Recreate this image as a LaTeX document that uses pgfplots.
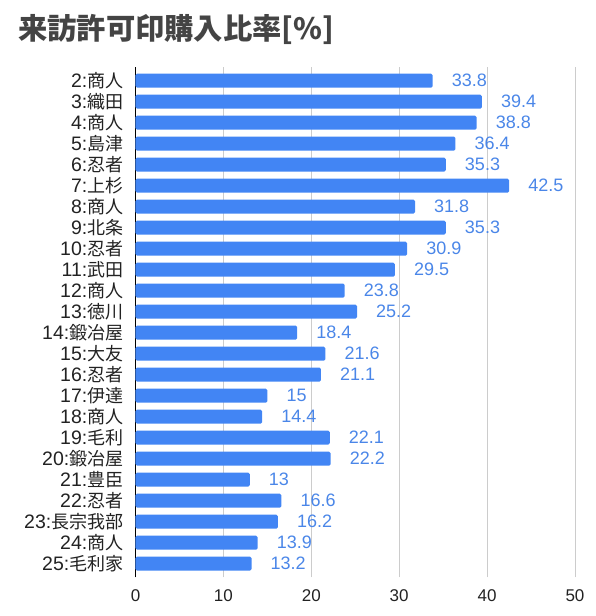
\documentclass[border=0pt]{standalone}
\usepackage{fontspec}
\setmainfont{Liberation Sans}
\newfontfamily\cjk{Noto Sans CJK JP}
\newcommand\J[1]{{\cjk\fontsize{18}{18}\selectfont #1}}
\usepackage{pgfplots}
\pgfplotsset{compat=1.18}
\definecolor{barblue}{HTML}{4285F4}
\definecolor{lblblue}{HTML}{4A86E8}
\definecolor{titlegray}{HTML}{444444}
\definecolor{gridgray}{HTML}{CCCCCC}
\definecolor{txt}{HTML}{222222}
\begin{document}
\begin{tikzpicture}
\path[use as bounding box] (-135.5pt,-38.7pt) rectangle (459.5pt,577.3pt);
\node[anchor=west, font=\cjk\bfseries\fontsize{29.3}{29.3}\selectfont, text=titlegray, inner sep=0pt] at (-117.5pt,548pt) {来訪許可印購入比率[\%]};
\begin{axis}[
  at={(0pt,0pt)}, anchor=south west,
  scale only axis, width=439.5pt, height=510.6pt,
  xmin=0, xmax=50, ymin=-0.648, ymax=23.667,
  xbar, bar width=14pt,
  axis x line*=bottom, axis y line*=left,
  x axis line style={draw=none},
  y axis line style={black, line width=0.9pt},
  major tick length=0pt,
  xtick={0,10,20,30,40,50},
  ytick={0,...,23},
  yticklabels={{25:\J{毛利家}},{24:\J{商人}},{23:\J{長宗我部}},{22:\J{忍者}},{21:\J{豊臣}},{20:\J{鍛冶屋}},{19:\J{毛利}},{18:\J{商人}},{17:\J{伊達}},{16:\J{忍者}},{15:\J{大友}},{14:\J{鍛冶屋}},{13:\J{徳川}},{12:\J{商人}},{11:\J{武田}},{10:\J{忍者}},{9:\J{北条}},{8:\J{商人}},{7:\J{上杉}},{6:\J{忍者}},{5:\J{島津}},{4:\J{商人}},{3:\J{織田}},{2:\J{商人}}},
  yticklabel style={font=\fontsize{19.5}{19.5}\selectfont, text=txt, anchor=east, inner sep=0pt, xshift=-12pt},
  xticklabel style={font=\fontsize{17}{17}\selectfont, text=txt, anchor=north, inner sep=0pt, yshift=-11.7pt},
  /pgf/number format/assume math mode=true,
  xmajorgrids, grid style={gridgray, line width=0.8pt},
  clip=false,
  nodes near coords,
  nodes near coords style={anchor=west, inner sep=0pt, xshift=19pt, font=\fontsize{18}{18}\selectfont, text=lblblue, /pgf/number format/assume math mode=true},
]
\addplot[fill=barblue, draw=none, rounded corners=1.5pt] coordinates {
(13.2,0) (13.9,1) (16.2,2) (16.6,3) (13,4) (22.2,5) (22.1,6) (14.4,7) (15,8) (21.1,9) (21.6,10) (18.4,11) (25.2,12) (23.8,13) (29.5,14) (30.9,15) (35.3,16) (31.8,17) (42.5,18) (35.3,19) (36.4,20) (38.8,21) (39.4,22) (33.8,23)
};
\end{axis}
\end{tikzpicture}
\end{document}
